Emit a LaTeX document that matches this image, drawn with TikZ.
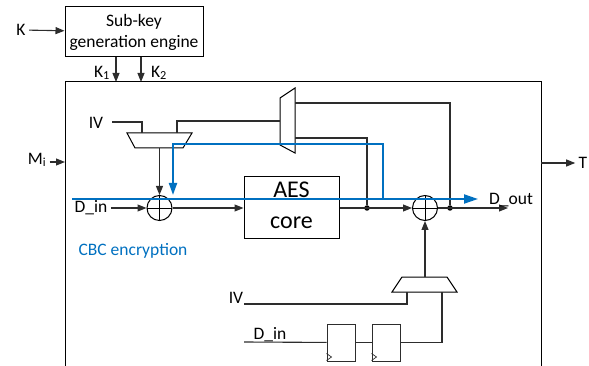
\documentclass[tikz,border=0pt]{standalone}
\usepackage{fontspec}
\setmainfont{Carlito}
\usetikzlibrary{arrows.meta}
\definecolor{cbcblue}{RGB}{0,112,192}
\definecolor{wire}{RGB}{45,45,45}

\begin{document}
\begin{tikzpicture}[x=1pt, y=-1pt,
  every node/.style={font=\fontsize{17.5}{21}\selectfont},
  blk/.style={draw=black, line width=1pt, inner sep=0pt, align=center},
  ffbox/.style={blk, draw=wire, minimum width=28pt, minimum height=37pt},
  xorgate/.style={circle, draw=black, line width=1pt, minimum size=25pt, inner sep=0pt,
    path picture={\draw[black, line width=0.8pt] (path picture bounding box.north) -- (path picture bounding box.south)
      (path picture bounding box.west) -- (path picture bounding box.east);}},
  dot/.style={circle, fill=black, inner sep=0pt, minimum size=5.5pt},
  wireline/.style={draw=wire, line width=1.1pt},
  arr/.style={wireline, -{Triangle[length=9pt,width=7pt]}},
  cbc/.style={draw=cbcblue, line width=2pt, -{Triangle[length=14pt,width=9pt]}}]
  \useasboundingbox (0,0) rectangle (589,366);
  \node[blk, minimum width=138pt, minimum height=50pt] (skg) at (134,32) {Sub-key\\generation engine};
  \node (K) at (21,30) {K};
  \draw[arr] (K) -- (skg);
  \coordinate (k1) at (116,82);
  \coordinate (k2) at (141,82);
  \draw[arr] (skg.south -| k1) -- (k1);
  \draw[arr] (skg.south -| k2) -- (k2);
  \node (k1lbl) at (102,73) {K\textsubscript{1}};
  \node (k2lbl) at (159,73) {K\textsubscript{2}};
  \draw[blk] (65,366) -- (65,82) -- (541,82) -- (541,366);
  \node (Mi) at (37,160) {M\textsubscript{i}};
  \coordinate (miIn) at (65,162);
  \draw[arr] (Mi.east |- miIn) -- (miIn);
  \coordinate (tOut) at (541,163);
  \node (T) at (583,163) {T};
  \draw[arr] (tOut) -- (T);
  \node[blk, minimum width=95pt, minimum height=62pt, text depth=6pt, font=\fontsize{24}{31}\selectfont] (aes) at (291.5,208) {AES\\core};
  \node[xorgate] (x1) at (159.5,208) {};
  \node[xorgate] (x2) at (425,208) {};
  \node[dot] (d1) at (367,208) {};
  \node[dot] (d2) at (450,208) {};
  \draw[blk] (280,98) -- (295,88) -- (295,153) -- (280,145) -- cycle;
  \coordinate (fbo) at (280,121);
  \coordinate (fba) at (295,103);
  \coordinate (fbb) at (295,138);
  \draw[blk] (127,133) -- (192,133) -- (183,148) -- (135,148) -- cycle;
  \coordinate (m1a) at (142,133);
  \coordinate (m1b) at (177,133);
  \coordinate (m1o) at (159.5,148);
  \draw[blk] (402,277) -- (447,277) -- (457,292) -- (392,292) -- cycle;
  \coordinate (m2o) at (425,277);
  \coordinate (m2a) at (407,292);
  \coordinate (m2b) at (442,292);
  \node (iv1) at (96,123) {IV};
  \coordinate (iv1s) at (112,122);
  \draw[wireline] (iv1s) -| (m1a);
  \draw[wireline] (fbo) -| (m1b);
  \draw[arr] (m1o) -- (x1);
  \node (din1) at (91,208) {D\_in};
  \draw[arr] (din1) -- (x1);
  \draw[arr] (x1) -- (aes);
  \draw[arr] (aes) -- (x2);
  \draw[wireline] (fbb) -| (d1);
  \draw[wireline] (fba) -| (d2);
  \coordinate (dout) at (508,208);
  \draw[arr] (x2) -- (dout);
  \node (doutlbl) at (511,200) {D\_out};
  \draw[arr] (m2o) -- (x2);
  \node (iv2) at (236,298) {IV};
  \coordinate (iv2s) at (244,304);
  \draw[wireline] (iv2s) -| (m2a);
  \node[ffbox] (ff1) at (341,342.5) {};
  \node[ffbox] (ff2) at (386,342.5) {};
  \foreach \f in {ff1,ff2}
    \draw[wire, line width=0.7pt] ([yshift=1pt]\f.south west) -- ([xshift=5pt,yshift=4.5pt]\f.south west) -- ([yshift=8pt]\f.south west);
  \node (din2) at (270,335) {D\_in};
  \coordinate (din2s) at (244,342);
  \draw[wireline] (din2s) -- (ff1);
  \draw[wireline] (ff1) -- (ff2);
  \draw[wireline] (ff2) -| (m2b);
  \node[text=cbcblue] (cbclbl) at (133,251) {CBC encryption};
  \coordinate (cbcL) at (72,199);
  \coordinate (cbcR) at (478,199);
  \coordinate (cbcTap) at (383,199);
  \coordinate (cbcTop) at (173,144);
  \coordinate (cbcDn) at (173,195);
  \draw[cbc] (cbcL) -- (cbcR);
  \draw[cbc, -{Triangle[length=12pt,width=8pt]}] (cbcTap) |- (cbcTop) -- (cbcDn);
\end{tikzpicture}
\end{document}
